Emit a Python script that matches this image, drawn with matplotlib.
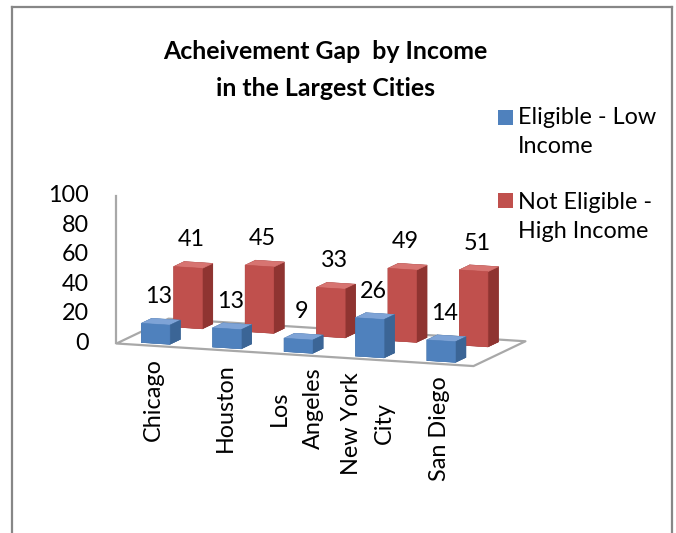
import matplotlib
matplotlib.use("Agg")
import numpy as np
import matplotlib.pyplot as plt
from matplotlib.lines import Line2D
from matplotlib.patches import Rectangle
from mpl_toolkits.mplot3d import proj3d
from mpl_toolkits.mplot3d.art3d import Poly3DCollection

# ---- chart data -------------------------------------------------------
cities = ["Chicago", "Houston", "Los\nAngeles", "New York\nCity", "San Diego"]
eligible_low = [13, 13, 9, 26, 14]
not_eligible_high = [41, 45, 33, 49, 51]
series_labels = ["Eligible - Low\nIncome", "Not Eligible -\nHigh Income"]
value_ticks = [0, 20, 40, 60, 80, 100]
chart_title = "Acheivement Gap  by Income\nin the Largest Cities"

# ---- styling ----------------------------------------------------------
plt.rcParams["font.family"] = ["Lato", "DejaVu Sans"]
FS = 16.8
BLUE = {"front": "#4F81BD", "side": "#3B6596", "top": "#7EA3D6"}
RED = {"front": "#C0504D", "side": "#8F3431", "top": "#D77471"}
GRID = "#A8A8A8"

W, H = 676, 533
fig = plt.figure(figsize=(W / 100, H / 100), dpi=100)


def fig_frac(x, y):
    """Image pixel (origin top-left) -> figure fraction."""
    return x / W, 1 - y / H


# outer chart border (left, top, right)
for (xa, ya), (xb, yb) in [((12, 533), (12, 7)), ((12, 7), (672, 7)), ((672, 7), (672, 533))]:
    p, q = fig_frac(xa, ya), fig_frac(xb, yb)
    fig.add_artist(Line2D([p[0], q[0]], [p[1], q[1]], color="#878787", lw=1.6))

# ---- 3D column chart --------------------------------------------------
n = len(cities)
depth = 2.0
zmax = value_ticks[-1]
ax = fig.add_axes([0.05, 0.1, 0.8, 0.8], projection="3d")
ax.set_proj_type("ortho")
ax.set_axis_off()
ax.computed_zorder = False
ax.set_xlim(0, n)
ax.set_ylim(0, depth)
ax.set_zlim(0, zmax)
ax.view_init(elev=10, azim=-70)
zoom = 1.0
ax.set_box_aspect((n, depth, 1.97), zoom=zoom)

floor = Poly3DCollection([[(0, 0, 0), (n, 0, 0), (n, depth, 0), (0, depth, 0)]],
                         facecolor="white", edgecolor=GRID, linewidth=1.6, zorder=1)
ax.add_collection3d(floor)
ax.plot([0, 0], [0, 0], [0, zmax], color=GRID, lw=1.6, zorder=2)

bar_w = 0.4
bar_d = 0.4
x_left = np.arange(n) + 0.5 - bar_w / 2
rows = [(not_eligible_high, 1.4, RED, 3), (eligible_low, 0.15, BLUE, 4)]
for values, y0, col, zo in rows:
    faces = []
    for _ in range(n):
        # bar3d face order: -z, +z, -y, +y, -x, +x
        faces += [col["side"], col["top"], col["front"], col["side"], col["side"], col["side"]]
    ax.bar3d(x_left, np.full(n, y0), np.zeros(n), bar_w, bar_d, values,
             color=faces, edgecolor=faces, linewidth=0.4, shade=False, zorder=zo)


def proj_px(x, y, z):
    xs, ys, _ = proj3d.proj_transform(x, y, z, ax.get_proj())
    return ax.transData.transform((xs, ys))


# scale the box so the front floor edge spans the intended width
fig.canvas.draw()
a, b = proj_px(0, 0, 0), proj_px(n, 0, 0)
zoom *= 357.7 / np.hypot(*(b - a))
ax.set_box_aspect((n, depth, 1.97), zoom=zoom)
fig.canvas.draw()
# move the axes so the front-left floor corner sits at (116, 343)
a = proj_px(0, 0, 0)
target = np.array([116, H - 343])
pos = ax.get_position(original=True)
d = (target - a) / np.array([W, H])
ax.set_position([pos.x0 + d[0], pos.y0 + d[1], pos.width, pos.height])
fig.canvas.draw()


def px_to_fig(p):
    return p[0] / W, p[1] / H


# value-axis tick labels
for v in value_ticks:
    p = proj_px(0, 0, v) + np.array([-27, 0])
    fig.text(*px_to_fig(p), f"{v}", ha="right", va="center", fontsize=FS)

# data labels above each column
for values, y0, col, zo in rows:
    for i, v in enumerate(values):
        p = proj_px(i + 0.5, y0 + bar_d / 2, v) + np.array([-2, 25])
        fig.text(*px_to_fig(p), f"{v}", ha="center", va="center", fontsize=FS)

# category labels under the floor
for i, name in enumerate(cities):
    p = proj_px(i + 0.5, 0, 0) + np.array([2, -13])
    fig.text(*px_to_fig(p), name, ha="center", va="top", rotation=90,
             multialignment="center", fontsize=FS, linespacing=1.75)

# legend (square aligned with the first label line; baseline given for the last line)
for (label, col), ytop, last_base in zip([(series_labels[0], BLUE), (series_labels[1], RED)],
                                        [110, 193], [153, 238]):
    x0, y0 = fig_frac(498, ytop + 15)
    fig.add_artist(Rectangle((x0, y0), 15 / W, 15 / H, transform=fig.transFigure,
                             facecolor=col["front"], edgecolor="none"))
    fig.text(*fig_frac(518, last_base), label, ha="left", va="baseline",
             fontsize=FS, linespacing=1.48)

# title
fig.text(*fig_frac(325, 96), chart_title, ha="center", va="baseline",
         fontsize=17.9, fontweight="bold", linespacing=1.75)

fig.savefig("out.png", dpi=100)
